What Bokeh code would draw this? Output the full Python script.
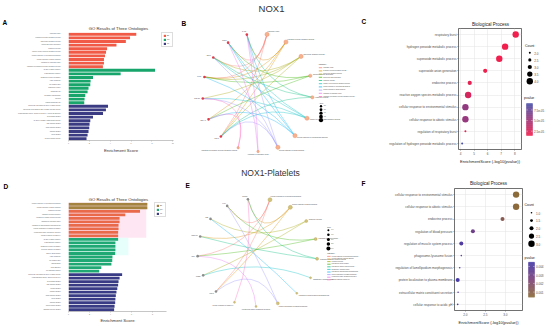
import numpy as np
from bokeh.plotting import figure
from bokeh.models import (Range1d, FactorRange, Label, Legend, LegendItem, ColumnDataSource,
                          LinearColorMapper, FixedTicker, BoxAnnotation, NumeralTickFormatter)
from bokeh.core.properties import value
from bokeh.embed import file_html
from bokeh.resources import INLINE

FONT = "Liberation Sans"

# ---------------- data: panel A (GO, NOX1) ----------------
a_bp_terms = ["respiratory burst", "hydrogen peroxide metabolic process", "superoxide metabolic process",
              "superoxide anion generation", "endocrine process", "reactive oxygen species metabolic process",
              "cellular response to environmental stimulus", "cellular response to abiotic stimulus",
              "regulation of respiratory burst", "regulation of hydrogen peroxide metabolic process"]
a_bp_scores = [6.5, 5.9, 5.5, 4.6, 3.7, 3.6, 3.5, 3.4, 3.4, 3.3]
a_cc_terms = ["NADPH oxidase complex", "oxidoreductase complex", "phagocytic vesicle membrane", "early endosome",
              "cell leading edge", "phagocytic vesicle", "membrane raft", "membrane microdomain", "caveola",
              "plasma membrane raft"]
a_cc_scores = [8.3, 5.0, 2.35, 2.12, 2.09, 1.92, 1.83, 1.61, 1.54, 1.51]
a_mf_terms = ["superoxide-generating NAD(P)H oxidase activity", "superoxide-generating NADPH oxidase activator activity",
              "oxidoreductase activity, acting on NAD(P)H, oxygen as acceptor", "SH3 domain binding",
              "NAD(P)H oxidase H2O2-forming activity", "Rac GTPase binding", "small GTPase binding",
              "GTPase binding", "heme binding", "electron transfer activity"]
a_mf_scores = [3.79, 3.59, 3.31, 2.35, 2.09, 2.02, 1.99, 1.92, 1.83, 1.73]
a_ticks = [0, 2, 4, 6, 8, 10]

# ---------------- data: panel D (GO, NOX1-Platelets) ----------------
d_bp_terms = ["cellular response to environmental stimulus", "cellular response to abiotic stimulus",
              "endocrine process", "regulation of blood pressure", "regulation of muscle system process",
              "phagosome-lysosome fusion", "regulation of lamellipodium morphogenesis",
              "protein localization to plasma membrane", "extracellular matrix constituent secretion",
              "cellular response to acidic pH"]
d_bp_scores = [7.5, 7.5, 6.8, 5.4, 4.86, 4.86, 4.76, 4.76, 4.72, 4.72]
d_cc_terms = ["NADPH oxidase complex", "oxidoreductase complex", "phagocytic vesicle membrane",
              "secretory granule membrane", "platelet alpha granule", "early endosome", "cell leading edge",
              "lamellipodium", "focal adhesion", "cell-substrate junction"]
d_cc_scores = [4.72, 4.46, 4.46, 4.46, 4.44, 4.18, 4.16, 4.08, 3.12, 2.92]
d_mf_terms = ["superoxide-generating NAD(P)H oxidase activity", "oxidoreductase activity, acting on NAD(P)H",
              "SH3 domain binding", "Rac GTPase binding", "integrin binding", "collagen binding",
              "small GTPase binding", "heme binding", "GTPase binding", "protein kinase binding",
              "signaling receptor binding"]
d_mf_scores = [5.1, 4.86, 4.76, 4.72, 4.64, 4.56, 4.5, 4.46, 4.44, 4.38, 4.34]
d_ticks = [0, 2, 4, 6, 8]

# ---------------- data: panel C (dot plot, NOX1) ----------------
c_terms = a_bp_terms
c_scores = [8.07, 7.29, 6.86, 5.82, 4.68, 4.56, 4.36, 4.36, 4.36, 4.12]
c_counts = [4, 4, 4, 3, 3, 4, 4, 4, 2, 2]
c_pvalues = [1.5e-05, 1.6e-05, 1.6e-05, 1.7e-05, 2.2e-05, 2.8e-05, 5.8e-05, 5.6e-05, 2.0e-05, 9.0e-05]
c_ticks = [4, 5, 6, 7, 8]
c_count_breaks = [2.0, 2.5, 3.0, 3.5, 4.0]
c_pv_ticks = [2.5e-05, 5.0e-05, 7.5e-05]

# ---------------- data: panel F (dot plot, NOX1-Platelets) ----------------
f_terms = d_bp_terms
f_scores = [3.27, 3.27, 2.93, 2.19, 1.90, 1.90, 1.86, 1.81, 1.82, 1.81]
f_counts = [3, 3, 2, 2, 2, 1, 1, 2, 1, 1]
f_pvalues = [0.0004, 0.0005, 0.0012, 0.0031, 0.0042, 0.0038, 0.0040, 0.0045, 0.0040, 0.0042]
f_ticks = [2.0, 2.5, 3.0]
f_count_breaks = [1.0, 1.5, 2.0, 2.5, 3.0]
f_pv_ticks = [0.001, 0.002, 0.003, 0.004]

# ---------------- data: networks B and E ----------------
b_genes = ["NOX1", "NOXA1", "NOXO1", "CYBA", "NCF1", "NCF2", "RAC1"]
b_links = [[0, 3, 4, 5], [0, 1, 3, 6], [0, 2, 3, 4], [1, 3, 5], [0, 4, 6],
           [0, 2, 4, 5], [1, 3, 5, 6], [0, 2, 4, 6], [5, 6], [1, 2]]
e_genes = ["NOX1", "ITGB3", "GP6", "P2RY12", "F2R", "VWF", "PTGS1"]
e_links = [[0, 2, 5], [0, 3, 6], [1, 4], [2, 5], [3, 6], [1], [4], [0, 5], [2], [6]]

# ---------------- figure texts ----------------
section_titles = ["NOX1", "NOX1-Platelets"]
panel_letters = ["A", "B", "C", "D", "E", "F"]
go_title = "GO Results of Three Ontologies"
dot_title = "Biological Process"

HUE10 = ["#F8766D", "#D89000", "#A3A500", "#39B600", "#00BF7D",
         "#00BFC4", "#00B0F6", "#9590FF", "#E76BF3", "#FF62BC"]


def ramp(stops, n=64):
    rgb = [tuple(int(s[i:i + 2], 16) for i in (1, 3, 5)) for s in stops]
    out = []
    for k in range(n):
        t = k / (n - 1) * (len(rgb) - 1)
        i = min(int(t), len(rgb) - 2)
        f = t - i
        c = [round(rgb[i][j] + (rgb[i + 1][j] - rgb[i][j]) * f) for j in range(3)]
        out.append("#%02x%02x%02x" % tuple(c))
    return out


c_mapper = LinearColorMapper(palette=ramp(["#F01F4D", "#4A4FA7"]), low=min(c_pvalues), high=max(c_pvalues))
f_mapper = LinearColorMapper(palette=ramp(["#8C6B3A", "#7E4279", "#4A3CA6"]), low=min(f_pvalues), high=max(f_pvalues))


def c_size(c):
    return 2.0 + (c - 2) * 2.2


def f_size(c):
    return 1.6 + (c - 1) * 2.4


def place(p, left, top):
    p.styles = {"position": "absolute", "left": f"{left}px", "top": f"{top}px"}
    return p


def data_label(p, x, y, text, size, align="left", bold=False, color="#000000"):
    p.add_layout(Label(x=x, y=y, text=text, text_font=FONT, text_font_size=f"{size}px",
                       text_font_style="bold" if bold else "normal",
                       text_color=color, text_align=align, text_baseline="middle"))


def bar_panel(w, h, groups, x_end, ticks, mb, std, highlight=None):
    labels = [t for g in groups for t in g[0]]
    n = len(labels)
    p = figure(width=w, height=h, x_range=Range1d(0, x_end),
               y_range=FactorRange(factors=labels[::-1], range_padding=0),
               min_border_left=mb[0], min_border_right=mb[1], min_border_top=mb[2], min_border_bottom=mb[3],
               output_backend="svg", toolbar_location=None)
    items = []
    for terms, scores, name, base in groups:
        cols = [base] * len(terms)
        if highlight is not None and name == highlight[0]:
            for k in range(highlight[1]):
                cols[k] = highlight[2]
        src = ColumnDataSource(dict(y=terms, right=scores, c=cols))
        r = p.hbar(y="y", left=0, right="right", height=0.8, source=src, fill_color="c", line_color=None)
        items.append(LegendItem(label=name, renderers=[r]))
    leg = Legend(items=items, location="top_right", margin=0, padding=1, spacing=1, glyph_width=3,
                 glyph_height=3, label_width=4, label_height=3, label_standoff=1,
                 label_text_font_size="1.6px", label_text_font=FONT, border_line_color="#BBBBBB",
                 border_line_width=0.5)
    p.add_layout(leg)
    xa = p.xaxis[0]
    xa.ticker = FixedTicker(ticks=ticks)
    xa.axis_line_color = "#A0A0A0"
    xa.axis_line_width = 0.6
    xa.major_tick_line_color = "#A0A0A0"
    xa.major_tick_line_width = 0.5
    xa.major_tick_out = 1
    xa.major_tick_in = 0
    xa.minor_tick_line_color = None
    xa.major_label_text_font_size = "1.8px"
    xa.major_label_text_color = "#666666"
    xa.major_label_text_font = FONT
    xa.major_label_standoff = std[0]
    xa.axis_label = "Enrichment Score"
    xa.axis_label_text_font_size = "4.3px"
    xa.axis_label_text_font_style = "normal"
    xa.axis_label_text_font = FONT
    xa.axis_label_text_color = "#333333"
    xa.axis_label_standoff = std[1]
    ya = p.yaxis[0]
    ya.axis_line_color = None
    ya.major_tick_line_color = None
    ya.minor_tick_line_color = None
    ya.major_label_text_font_size = "1.5px"
    ya.major_label_text_color = "#555555"
    ya.major_label_text_font = FONT
    ya.major_label_standoff = 2
    p.xgrid.visible = False
    p.ygrid.visible = False
    p.outline_line_color = None
    return p, n


def dot_panel(w, h, terms, scores, counts, pvals, mapper, size_fn, xr, ticks, mb, fmt=None):
    p = figure(width=w, height=h, x_range=Range1d(*xr),
               y_range=FactorRange(factors=list(terms)[::-1], range_padding=0),
               min_border_left=mb[0], min_border_right=mb[1], min_border_top=mb[2], min_border_bottom=mb[3],
               output_backend="svg", toolbar_location=None)
    src = ColumnDataSource(dict(x=scores, y=terms, p=pvals, s=[size_fn(c) for c in counts]))
    p.scatter("x", "y", size="s", source=src, fill_color={"field": "p", "transform": mapper}, line_color=None)
    xa = p.xaxis[0]
    xa.ticker = FixedTicker(ticks=ticks)
    if fmt is not None:
        xa.formatter = fmt
    xa.axis_label = "EnrichmentScore (-log10(pvalue))"
    xa.axis_label_text_font_size = "4px"
    xa.axis_label_text_font_style = "normal"
    xa.axis_label_text_font = FONT
    xa.axis_label_text_color = "#222222"
    xa.axis_label_standoff = 1
    for ax in (p.xaxis[0], p.yaxis[0]):
        ax.axis_line_color = None
        ax.major_tick_line_color = "#333333"
        ax.major_tick_line_width = 0.5
        ax.major_tick_out = 1
        ax.major_tick_in = 0
        ax.minor_tick_line_color = None
        ax.major_label_text_font_size = "3px"
        ax.major_label_text_color = "#4D4D4D"
        ax.major_label_text_font = FONT
        ax.major_label_standoff = 1
    p.xgrid.ticker = FixedTicker(ticks=ticks)
    p.xgrid.grid_line_color = "#E3E3E3"
    p.xgrid.grid_line_width = 0.5
    p.ygrid.grid_line_color = "#E3E3E3"
    p.ygrid.grid_line_width = 0.5
    p.outline_line_color = "#333333"
    p.outline_line_width = 0.7
    return p


def scale_legend(w, h, breaks, size_fn, count_title_xy, dot_x, dot_y0, dot_dy, mapper, lo, hi,
                 pv_title_xy, bar_x, bar_y, pv_ticks, pv_fmt):
    q = figure(width=w, height=h, x_range=Range1d(0, w), y_range=Range1d(h, 0), x_axis_type=None,
               y_axis_type=None, min_border=0, output_backend="svg", toolbar_location=None)
    q.outline_line_color = None
    data_label(q, count_title_xy[0], count_title_xy[1], "Count", 3.5, color="#222222")
    ys = [dot_y0 + i * dot_dy for i in range(len(breaks))]
    q.scatter(x=[dot_x] * len(breaks), y=ys, size=[size_fn(b) for b in breaks], fill_color="black", line_color=None)
    q.text(x=[dot_x + 4.5] * len(breaks), y=ys, text=[f"{b:.1f}" for b in breaks], text_font=value(FONT),
           text_font_size="3px", text_color="#4D4D4D", text_baseline="middle", text_align="left")
    data_label(q, pv_title_xy[0], pv_title_xy[1], "pvalue", 3.5, color="#222222")
    vs = np.linspace(lo, hi, 48)
    step = (bar_y[1] - bar_y[0]) / len(vs)
    src = ColumnDataSource(dict(top=[bar_y[1] - (i + 1) * step for i in range(len(vs))],
                                bottom=[bar_y[1] - i * step for i in range(len(vs))], v=vs))
    q.quad(left=bar_x[0], right=bar_x[1], top="top", bottom="bottom", source=src,
           fill_color={"field": "v", "transform": mapper}, line_color={"field": "v", "transform": mapper},
           line_width=0.3)
    tys = [bar_y[1] - (t - lo) / (hi - lo) * (bar_y[1] - bar_y[0]) for t in pv_ticks]
    q.segment(x0=[bar_x[0]] * len(tys), x1=[bar_x[0] + 1.2] * len(tys), y0=tys, y1=tys, line_color="white",
              line_width=0.5)
    q.segment(x0=[bar_x[1] - 1.2] * len(tys), x1=[bar_x[1]] * len(tys), y0=tys, y1=tys, line_color="white",
              line_width=0.5)
    q.text(x=[bar_x[1] + 1.5] * len(tys), y=tys, text=[pv_fmt(t) for t in pv_ticks], text_font=value(FONT),
           text_font_size="3px", text_color="#4D4D4D", text_baseline="middle", text_align="left")
    return q


def net_panel(w, h, center, radii, start, terms, genes, links, size_fn, term_fill, term_line, gene_fill,
              leg_cat, leg_size, size_breaks):
    p = figure(width=w, height=h, x_range=Range1d(0, w), y_range=Range1d(h, 0), x_axis_type=None,
               y_axis_type=None, min_border=0, output_backend="svg", toolbar_location=None)
    p.outline_line_color = None
    names = list(terms) + list(genes)
    n = len(names)
    ang = np.deg2rad(start - np.arange(n) * 360.0 / n)
    cx, cy = center
    rx, ry = radii
    xs = cx + rx * np.cos(ang)
    ys = cy - ry * np.sin(ang)
    e = dict(x0=[], y0=[], x1=[], y1=[], cx=[], cy=[], c=[])
    nt = len(terms)
    for t, gl in enumerate(links):
        for g in gl:
            j = nt + g
            mx, my = (xs[t] + xs[j]) / 2, (ys[t] + ys[j]) / 2
            e["x0"].append(xs[t]); e["y0"].append(ys[t])
            e["x1"].append(xs[j]); e["y1"].append(ys[j])
            e["cx"].append(cx + 0.2 * (mx - cx)); e["cy"].append(cy + 0.2 * (my - cy))
            e["c"].append(HUE10[t % 10])
    p.quadratic(x0="x0", y0="y0", x1="x1", y1="y1", cx="cx", cy="cy", line_color="c", line_alpha=0.6,
                line_width=0.6, source=ColumnDataSource(e))
    counts = [len(l) for l in links]
    p.scatter(x=xs[:nt], y=ys[:nt], size=[size_fn(c) for c in counts], fill_color=term_fill,
              line_color=term_line, line_width=0.4)
    p.scatter(x=xs[nt:], y=ys[nt:], size=2.6, fill_color=gene_fill, line_color=None)
    cosv = np.cos(ang)
    lx = cx + (rx + 3) * cosv
    ly = cy - (ry + 3) * np.sin(ang)
    for al, mask in (("left", cosv > 0.15), ("right", cosv < -0.15), ("center", np.abs(cosv) <= 0.15)):
        idx = np.where(mask)[0]
        if len(idx):
            p.text(x=lx[idx], y=ly[idx], text=[names[i] for i in idx], text_font=value(FONT),
                   text_font_size="1.6px", text_color="#444444", text_align=al, text_baseline="middle")
    tx, ty, sp = leg_cat
    data_label(p, tx, ty, "category", 2.0, color="#333333")
    iy = [ty + 3.2 + i * sp for i in range(nt)]
    p.segment(x0=[tx] * nt, x1=[tx + 3.4] * nt, y0=iy, y1=iy, line_color=HUE10[:nt], line_width=0.7)
    p.text(x=[tx + 4.4] * nt, y=iy, text=list(terms), text_font=value(FONT), text_font_size="1.4px",
           text_color="#444444", text_baseline="middle", text_align="left")
    sx, sy, ssp = leg_size
    data_label(p, sx, sy, "size", 2.0, color="#333333")
    sy_i = [sy + 3.0 + i * ssp for i in range(len(size_breaks))]
    p.scatter(x=[sx + 1.2] * len(size_breaks), y=sy_i, size=[size_fn(b) for b in size_breaks],
              fill_color="black", line_color=None)
    p.text(x=[sx + 4.0] * len(size_breaks), y=sy_i, text=[f"{b:.1f}" for b in size_breaks], text_font=value(FONT),
           text_font_size="1.5px", text_color="#444444", text_baseline="middle", text_align="left")
    return p


# ---------------- top row: NOX1 ----------------
pa, na = bar_panel(180, 166,
                   [(a_bp_terms, a_bp_scores, "BP", "#F05A47"),
                    (a_cc_terms, a_cc_scores, "CC", "#17A56B"),
                    (a_mf_terms, a_mf_scores, "MF", "#3B3B84")],
                   10.07, a_ticks, (68, 7, 32, 26), (1, 1))

pb = net_panel(180, 166, (77, 92), (55, 59), 80, c_terms, b_genes, b_links,
               lambda c: 2.4 + (c - 2) * 0.9, "#F6B28C", "#E8866A", "#E03A4A",
               (138.3, 64, 3.2), (139.3, 102.7, 3.5), c_count_breaks)

pc = dot_panel(162, 166, c_terms, c_scores, c_counts, c_pvalues, c_mapper, c_size, (3.85, 8.5), c_ticks,
               (98, 1, 28, 14))
pcl = scale_legend(28, 166, c_count_breaks, c_size, (2.5, 45), 7.3, 52.3, 7.1, c_mapper,
                   min(c_pvalues), max(c_pvalues), (1.5, 97.7), (4, 10), (103, 135), c_pv_ticks,
                   lambda t: f"{t:.1e}")

# ---------------- bottom row: NOX1-Platelets ----------------
pd_, nd = bar_panel(180, 161,
                    [(d_bp_terms, d_bp_scores, "BP", "#E9694B"),
                     (d_cc_terms, d_cc_scores, "CC", "#20A874"),
                     (d_mf_terms, d_mf_scores, "MF", "#393C84")],
                    9.32, d_ticks, (68, 14, 36, 16), (1, 0),
                    highlight=("BP", 2, "#A4823F"))
pd_.add_layout(BoxAnnotation(left=-0.5, right=7.4, bottom=nd - len(d_bp_terms) - 0.05, top=nd + 0.3,
                             fill_color="#FFB6DE", fill_alpha=0.35, line_color=None, level="underlay"))
pd_.add_layout(BoxAnnotation(left=-0.5, right=5.7, bottom=nd - len(d_bp_terms) - 5,
                             top=nd - len(d_bp_terms) - 0.05,
                             fill_color="#B6FFF0", fill_alpha=0.35, line_color=None, level="underlay"))

pe = net_panel(180, 161, (77, 86), (60, 54), 78, f_terms, e_genes, e_links,
               lambda c: 2.0 + (c - 1) * 1.0, "#D2C27A", "#B8A55A", "#8C8C8C",
               (146.7, 86.7, 2.6), (146.7, 60.7, 4.6), f_count_breaks)

pf = dot_panel(163, 161, f_terms, f_scores, f_counts, f_pvalues, f_mapper, f_size, (1.73, 3.43), f_ticks,
               (94, 1, 22, 15), fmt=NumeralTickFormatter(format="0.0"))
pfl = scale_legend(27, 161, f_count_breaks, f_size, (1.0, 38.3), 8, 46.3, 7.75, f_mapper,
                   min(f_pvalues), max(f_pvalues), (1.0, 91.7), (5, 11), (95.7, 130.7), f_pv_ticks,
                   lambda t: f"{t:.3f}")

# ---------------- transparent overlay with panel letters and titles ----------------
ov = figure(width=550, height=327, x_range=Range1d(0, 550), y_range=Range1d(327, 0), x_axis_type=None,
            y_axis_type=None, min_border=0, output_backend="svg", toolbar_location=None)
ov.outline_line_color = None
ov.background_fill_alpha = 0
ov.border_fill_alpha = 0
for txt, (x, y), size in zip(section_titles, [(271, 7.5), (270, 172)], [9.5, 8.5]):
    data_label(ov, x, y, txt, size, align="center", color="#333333")
for txt, (x, y) in zip(panel_letters, [(2, 22), (181, 23), (361, 21), (3, 186), (185, 185), (361, 183)]):
    data_label(ov, x, y, txt, 6.5, bold=True)
for (x, y) in [(118, 28), (118, 199)]:
    data_label(ov, x, y, go_title, 4.2, align="center", color="#333333")
for (x, y) in [(490, 23.5), (488, 183.3)]:
    data_label(ov, x, y, dot_title, 4.5, align="center", color="#222222")

place(pa, 0, 0)
place(pb, 180, 0)
place(pc, 360, 0)
place(pcl, 522, 0)
place(pd_, 0, 166)
place(pe, 180, 166)
place(pf, 360, 166)
place(pfl, 523, 166)
place(ov, 0, 0)

p = [pa, pb, pc, pcl, pd_, pe, pf, pfl, ov]
open("out.html", "w").write(file_html(p, INLINE))
